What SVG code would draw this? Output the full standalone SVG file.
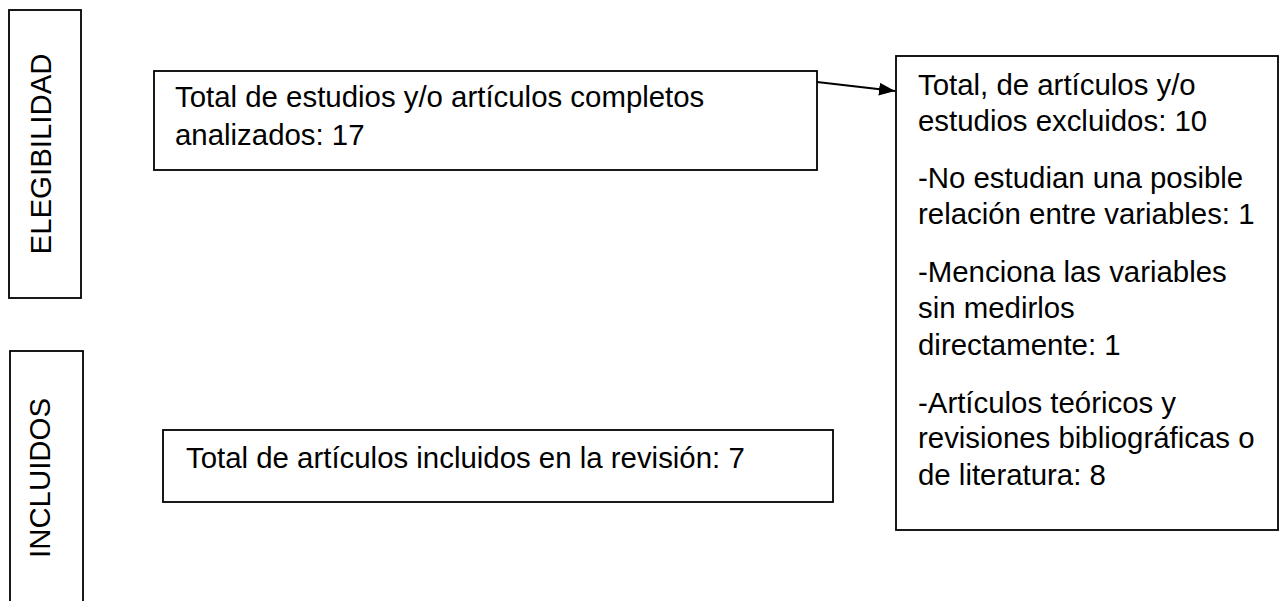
<svg xmlns="http://www.w3.org/2000/svg" width="1282" height="601" viewBox="0 0 1282 601">
<style>
  .box { fill: #ffffff; stroke: #000000; stroke-width: 1.8; }
  .t { font-family: "Liberation Sans", Arial, sans-serif; font-size: 29.4px; fill: #000000; }
  .conn { stroke: #000000; stroke-width: 2.2; fill: none; }
</style>
<defs>
  <marker id="arrow" viewBox="0 0 16 13" refX="16" refY="6.5" markerWidth="16" markerHeight="13" markerUnits="userSpaceOnUse" orient="auto">
    <path d="M0,0 L16,6.5 L0,13 Z" fill="#000000"/>
  </marker>
</defs>
<rect width="1282" height="601" fill="#ffffff"/>
<g id="label-elegibilidad">
  <rect class="box" x="9" y="10" width="72" height="288"/>
  <text class="t" transform="translate(51,154) rotate(-90)" text-anchor="middle">ELEGIBILIDAD</text>
</g>
<g id="label-incluidos">
  <rect class="box" x="10" y="351" width="73" height="270"/>
  <text class="t" transform="translate(50,478) rotate(-90)" text-anchor="middle">INCLUIDOS</text>
</g>
<g id="node-analizados">
  <rect class="box" x="154" y="71" width="663" height="99"/>
  <text class="t" x="175" y="107">Total de estudios y/o artículos completos</text>
  <text class="t" x="175" y="145">analizados: 17</text>
</g>
<g id="node-excluidos">
  <rect class="box" x="896" y="56" width="382" height="474"/>
  <text class="t" x="918" y="95">Total, de artículos y/o</text>
  <text class="t" x="918" y="131">estudios excluidos: 10</text>
  <text class="t" x="918" y="188">-No estudian una posible</text>
  <text class="t" x="918" y="224">relación entre variables: 1</text>
  <text class="t" x="918" y="282">-Menciona las variables</text>
  <text class="t" x="918" y="318">sin medirlos</text>
  <text class="t" x="918" y="355">directamente: 1</text>
  <text class="t" x="918" y="413">-Artículos teóricos y</text>
  <text class="t" x="918" y="448">revisiones bibliográficas o</text>
  <text class="t" x="918" y="485">de literatura: 8</text>
</g>
<g id="node-incluidos">
  <rect class="box" x="163" y="430" width="670" height="72"/>
  <text class="t" x="186" y="468">Total de artículos incluidos en la revisión: 7</text>
</g>
<g id="connectors">
  <line class="conn" x1="817" y1="82" x2="895" y2="91" marker-end="url(#arrow)"/>
</g>
</svg>
